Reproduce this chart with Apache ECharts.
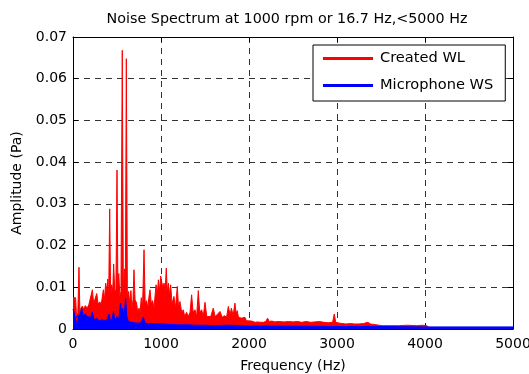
<!DOCTYPE html>
<html><head><meta charset="utf-8">
<script src="https://cdn.jsdelivr.net/npm/echarts@6/dist/echarts.min.js"></script>
<style>html,body{margin:0;padding:0;background:#fff}#c{width:529px;height:374px}</style>
</head><body><div id="c"></div>
<script>
const titleText = 'Noise Spectrum at 1000 rpm or 16.7 Hz,<5000 Hz';
const xTicks = [0, 1000, 2000, 3000, 4000, 5000];
const yTicks = [0, 0.01, 0.02, 0.03, 0.04, 0.05, 0.06, 0.07];
const seriesNames = ['Created WL', 'Microphone WS'];
// Created WL: [frequency Hz, amplitude Pa]
const createdWL = [
[0,0.0075],[15,0.0072],[30,0.0075],[42,0.002],[55,0.004],[68,0.0148],[78,0.004],[90,0.005],
[105,0.0055],[120,0.0048],[140,0.0056],[160,0.005],[180,0.0058],[200,0.0055],[220,0.0094],
[235,0.006],[250,0.0072],[270,0.0085],[285,0.006],[305,0.0065],[320,0.0058],[345,0.0094],
[358,0.007],[371,0.011],[385,0.009],[395,0.012],[405,0.007],[417,0.0288],[428,0.008],
[440,0.0106],[452,0.009],[462,0.0156],[475,0.009],[488,0.0095],[500,0.0381],[510,0.01],
[520,0.0133],[532,0.008],[545,0.009],[560,0.0668],[572,0.009],[585,0.0144],[595,0.01],
[606,0.0648],[618,0.008],[632,0.009],[645,0.006],[658,0.0092],[670,0.005],[682,0.007],
[693,0.0142],[705,0.007],[722,0.0063],[735,0.004],[750,0.005],[762,0.004],[776,0.0075],
[790,0.005],[807,0.019],[820,0.006],[836,0.0068],[850,0.005],[862,0.0075],[875,0.0094],
[890,0.006],[905,0.0068],[920,0.005],[944,0.0106],[957,0.008],[970,0.0118],[985,0.009],
[996,0.0127],[1007,0.0126],[1020,0.01],[1035,0.011],[1047,0.009],[1060,0.0146],[1072,0.009],
[1085,0.011],[1098,0.008],[1110,0.0106],[1125,0.006],[1147,0.0078],[1165,0.005],[1185,0.0102],
[1200,0.005],[1215,0.0066],[1235,0.004],[1253,0.0046],[1270,0.003],[1291,0.004],[1310,0.003],
[1330,0.004],[1348,0.0082],[1365,0.004],[1386,0.0046],[1405,0.003],[1424,0.0092],[1440,0.004],
[1462,0.0046],[1480,0.003],[1500,0.0064],[1520,0.003],[1540,0.0033],[1565,0.003],[1594,0.005],
[1615,0.003],[1640,0.0035],[1670,0.0042],[1695,0.0028],[1720,0.0032],[1745,0.0028],[1765,0.0054],
[1785,0.0034],[1800,0.005],[1820,0.0032],[1840,0.0062],[1855,0.0035],[1866,0.0044],[1880,0.0028],
[1900,0.0032],[1916,0.0026],[1935,0.0022],[1954,0.0028],[1970,0.002],[1992,0.0018],[2030,0.0019],
[2068,0.0016],[2100,0.0017],[2125,0.0016],[2162,0.0016],[2190,0.0018],[2211,0.0026],[2230,0.0018],
[2260,0.0019],[2295,0.0017],[2330,0.0018],[2352,0.0014],[2400,0.0017],[2450,0.0018],[2500,0.0017],
[2550,0.0018],[2600,0.0016],[2650,0.0018],[2700,0.0016],[2750,0.0017],[2800,0.0018],[2850,0.0016],
[2900,0.0015],[2950,0.0016],[2969,0.0036],[2985,0.0016],[3030,0.0014],[3100,0.0012],[3150,0.0013],
[3200,0.0012],[3250,0.0012],[3300,0.0013],[3350,0.0016],[3380,0.0012],[3420,0.0011],[3480,0.0009],
[3520,0.0008],[3600,0.0008],[3700,0.0008],[3800,0.0009],[3900,0.0008],[3976,0.0009],[4030,0.0007],
[4040,0.0003]
];
// Microphone WS: [frequency Hz, amplitude Pa]
const microphoneWS = [
[0,0.0048],[12,0.004],[25,0.0025],[40,0.003],[60,0.0028],[80,0.0035],[99,0.005],[115,0.0032],
[140,0.0036],[160,0.003],[180,0.0033],[200,0.0028],[220,0.004],[240,0.0022],[270,0.0025],
[300,0.002],[330,0.0022],[360,0.002],[390,0.0024],[410,0.0036],[425,0.002],[445,0.0025],
[460,0.0042],[475,0.002],[500,0.003],[520,0.0022],[540,0.0062],[555,0.0035],[565,0.005],
[580,0.003],[598,0.0074],[612,0.003],[630,0.0018],[660,0.0016],[700,0.0015],[740,0.0014],
[770,0.0015],[800,0.0028],[820,0.0014],[860,0.0013],[900,0.0013],[950,0.0012],[1000,0.0013],
[1100,0.0011],[1200,0.001],[1300,0.001],[1400,0.0009],[1500,0.0009],[1600,0.0008],[1700,0.0009],
[1800,0.0009],[1900,0.0008],[2000,0.0007],[2500,0.0007],[3000,0.0006],[3500,0.0006],[4000,0.0005],
[4500,0.0005],[5000,0.0005]
];
const colors = ['#ff0000', '#0000ff'];

const FONT = '"DejaVu Sans", "Liberation Sans", Arial, sans-serif';
const chart = echarts.init(document.getElementById('c'), null, {renderer: 'canvas'});
const grid = {left: 73, right: 16, top: 37, bottom: 45, containLabel: false, outerBoundsMode: 'none'};
const dashed = {show: true, lineStyle: {color: '#333', type: [6, 5], width: 1}};
const xCommon = {type: 'value', min: xTicks[0], max: xTicks[xTicks.length-1], interval: 1000};
const yCommon = {type: 'value', min: yTicks[0], max: yTicks[yTicks.length-1], interval: 0.01};
chart.setOption({
  animation: false,
  backgroundColor: '#fff',
  title: {text: titleText, left: 282, textAlign: 'center', top: 7,
    textStyle: {fontFamily: FONT, fontSize: 14.3, fontWeight: 'normal', color: '#000'}},
  grid: grid,
  legend: {
    orient: 'vertical', left: 313, top: 45, padding: [6, 12, 8, 10], itemGap: 12,
    itemWidth: 50, itemHeight: 3, backgroundColor: '#fff', borderColor: '#000', borderWidth: 1,
    borderRadius: 0,
    textStyle: {fontFamily: FONT, fontSize: 14.6, color: '#000', padding: [0, 0, 0, 2]},
    data: seriesNames.map((n, i) => ({name: n, icon: 'rect', itemStyle: {color: colors[i]}}))
  },
  xAxis: [
    Object.assign({}, xCommon, {
      position: 'bottom', name: 'Frequency (Hz)', nameLocation: 'middle', nameGap: 30,
      nameTextStyle: {fontFamily: FONT, fontSize: 14, color: '#000'},
      axisLine: {show: true, onZero: false, lineStyle: {color: '#000', width: 1}},
      axisTick: {show: true, inside: true, length: 5, lineStyle: {color: '#000'}},
      axisLabel: {fontFamily: FONT, fontSize: 14, color: '#000', margin: 8,
        formatter: v => xTicks.includes(v) ? String(v) : ''},
      splitLine: dashed
    }),
    Object.assign({}, xCommon, {
      position: 'top',
      axisLine: {show: true, onZero: false, lineStyle: {color: '#000', width: 1}},
      axisTick: {show: true, inside: true, length: 5, lineStyle: {color: '#000'}},
      axisLabel: {show: false}, splitLine: {show: false}
    })
  ],
  yAxis: [
    Object.assign({}, yCommon, {
      position: 'left', name: 'Amplitude (Pa)', nameLocation: 'middle', nameGap: 49,
      nameTextStyle: {fontFamily: FONT, fontSize: 14, color: '#000'},
      axisLine: {show: true, onZero: false, lineStyle: {color: '#000', width: 1}},
      axisTick: {show: true, inside: true, length: 5, lineStyle: {color: '#000'}},
      axisLabel: {fontFamily: FONT, fontSize: 14, color: '#000', margin: 6,
        formatter: v => { const t = yTicks.find(k => Math.abs(k - v) < 1e-9); return t === undefined ? '' : (t === 0 ? '0' : t.toFixed(2)); }},
      splitLine: dashed
    }),
    Object.assign({}, yCommon, {
      position: 'right',
      axisLine: {show: true, onZero: false, lineStyle: {color: '#000', width: 1}},
      axisTick: {show: true, inside: true, length: 5, lineStyle: {color: '#000'}},
      axisLabel: {show: false}, splitLine: {show: false}
    })
  ],
  series: [
    {name: seriesNames[0], type: 'line', data: createdWL, xAxisIndex: 0, yAxisIndex: 0,
      symbol: 'none', sampling: null, lineStyle: {color: colors[0], width: 1},
      itemStyle: {color: colors[0]}, areaStyle: {color: colors[0], opacity: 1}},
    {name: seriesNames[1], type: 'line', data: microphoneWS, xAxisIndex: 0, yAxisIndex: 0,
      symbol: 'none', sampling: null, lineStyle: {color: colors[1], width: 1},
      itemStyle: {color: colors[1]}, areaStyle: {color: colors[1], opacity: 1}}
  ]
});
</script></body></html>
